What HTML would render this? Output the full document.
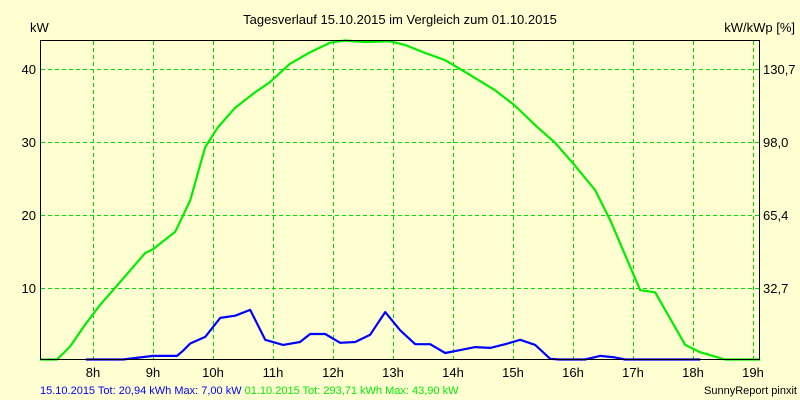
<!DOCTYPE html>
<html><head><meta charset="utf-8"><style>
html,body{margin:0;padding:0;background:#ffffd2;}
svg{display:block;font-family:"Liberation Sans",sans-serif;}
</style></head><body>
<svg id="chart" width="800" height="400" viewBox="0 0 800 400">
<rect x="0" y="0" width="800" height="400" fill="#ffffd2"/>
<text x="400" y="24" font-size="13" text-anchor="middle" fill="#000">Tagesverlauf 15.10.2015 im Vergleich zum 01.10.2015</text>
<text x="30" y="32" font-size="13">kW</text>
<text x="795" y="32" font-size="13" text-anchor="end">kW/kWp [%]</text>
<g id="grid"></g>
<g id="series"></g>
<line x1="40.5" y1="40" x2="40.5" y2="360" stroke="#000"/>
<line x1="40" y1="40.5" x2="760" y2="40.5" stroke="#000"/>
<line x1="759.5" y1="40" x2="759.5" y2="360" stroke="#000"/>
<line x1="40" y1="359.5" x2="760" y2="359.5" stroke="#000"/>
<g id="labels"></g>
<text x="40" y="394" font-size="11" fill="#0000ff">15.10.2015 Tot: 20,94 kWh Max: 7,00 kW <tspan fill="#00ee00">01.10.2015 Tot: 293,71 kWh Max: 43,90 kW</tspan></text>
<text x="797" y="394" font-size="11" text-anchor="end">SunnyReport pinxit</text>
</svg>
<script>
const hourTicks = [8,9,10,11,12,13,14,15,16,17,18,19];
const leftTicks = [10,20,30,40];
const rightTickLabels = ["32,7","65,4","98,0","130,7"];
const greenTimes = [7.12,7.4,7.62,7.87,8.12,8.45,8.87,9.0,9.37,9.62,9.87,10.08,10.37,10.7,10.95,11.28,11.62,11.95,12.2,12.53,12.95,13.2,13.53,13.87,14.28,14.7,15.03,15.37,15.7,16.03,16.37,16.62,16.87,17.12,17.37,17.87,18.12,18.37,18.53,19.12];
const greenValues = [0,0,2,5,7.7,10.8,14.8,15.3,17.7,22,29.3,32,34.7,36.8,38.2,40.7,42.3,43.6,43.9,43.7,43.8,43.3,42.2,41.2,39.2,37.1,35,32.3,29.9,26.8,23.4,19.3,14.5,9.7,9.4,2.2,1.2,0.6,0,0];
const blueTimes = [7.88,8.5,9.0,9.4,9.5,9.62,9.87,10.12,10.37,10.62,10.87,11.17,11.45,11.62,11.87,12.12,12.37,12.62,12.87,13.12,13.37,13.62,13.87,14.12,14.37,14.62,14.87,15.12,15.37,15.62,15.78,16.2,16.45,16.7,16.87,18.12];
const blueValues = [0,0.2,0.7,0.7,1.4,2.4,3.3,5.9,6.2,7.0,2.9,2.2,2.6,3.7,3.7,2.5,2.6,3.6,6.7,4.2,2.3,2.3,1.1,1.5,1.9,1.8,2.3,2.9,2.2,0.3,0,0,0.7,0.5,0,0];

const NS = "http://www.w3.org/2000/svg";
function xs(t){ return 93 + (t-8)*60; }
function ys(v){ return Math.min(359.5, 361 - v*7.3); }
function mk(tag, attrs, parent){ const e=document.createElementNS(NS,tag); for(const k in attrs) e.setAttribute(k,attrs[k]); parent.appendChild(e); return e; }
const grid=document.getElementById('grid'), labels=document.getElementById('labels'), series=document.getElementById('series');
hourTicks.forEach(h=>{
  const x=Math.round(xs(h))+0.5;
  const l=mk('line',{x1:x,y1:41,x2:x,y2:359,stroke:'#00dd00','stroke-dasharray':'4,3'},grid);
  
  
  const t=mk('text',{x:xs(h),y:377,'font-size':13,'text-anchor':'middle'},labels);
  t.textContent=h+'h';
  
  
});
leftTicks.forEach((v,i)=>{
  const y=Math.round(ys(v))+0.5;
  const l=mk('line',{x1:41,y1:y,x2:759,y2:y,stroke:'#00dd00','stroke-dasharray':'4,3'},grid);
  
  
  const t=mk('text',{x:36,y:ys(v)+5,'font-size':13,'text-anchor':'end'},labels);
  t.textContent=v;
  
  
  const r=mk('text',{x:763,y:ys(v)+5,'font-size':13},labels);
  r.textContent=rightTickLabels[i];
  
  
});
function line(ts,vs,color,name){
  const p=ts.map((t,i)=>xs(t).toFixed(1)+','+ys(vs[i]).toFixed(1)).join(' ');
  const e=mk('polyline',{points:p,fill:'none',stroke:color,'stroke-width':2.2,'stroke-linejoin':'round'},series);
  
  
}
line(greenTimes,greenValues,'#00ee00','series-01-10-2015');
line(blueTimes,blueValues,'#0000ff','series-15-10-2015');
</script>
</body></html>
